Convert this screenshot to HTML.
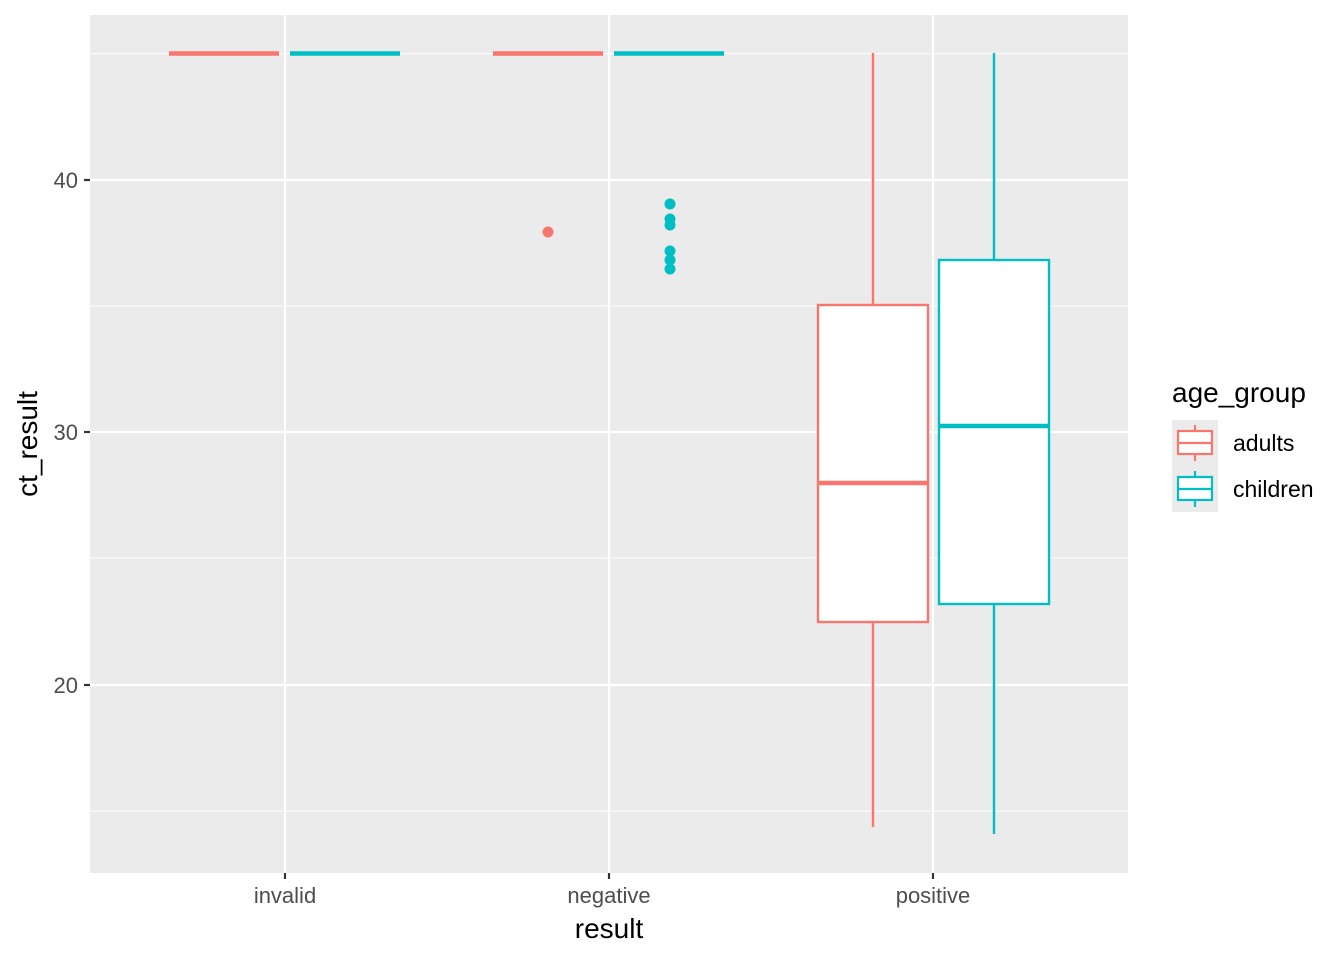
<!DOCTYPE html>
<html><head><meta charset="utf-8"><style>body{margin:0;background:#fff}</style></head><body>
<svg width="1344" height="960" xmlns="http://www.w3.org/2000/svg" font-family="Liberation Sans, sans-serif">
<rect x="90" y="15" width="1038" height="858" fill="#ebebeb"/>
<g stroke="#fff" stroke-width="1.1">
<line x1="90" x2="1128" y1="53.75" y2="53.75"/><line x1="90" x2="1128" y1="306" y2="306"/><line x1="90" x2="1128" y1="558" y2="558"/><line x1="90" x2="1128" y1="811" y2="811"/>
</g>
<g stroke="#fff" stroke-width="2.2">
<line x1="90" x2="1128" y1="180" y2="180"/><line x1="90" x2="1128" y1="432" y2="432"/><line x1="90" x2="1128" y1="685" y2="685"/>
<line x1="285" x2="285" y1="15" y2="873"/><line x1="609" x2="609" y1="15" y2="873"/><line x1="933" x2="933" y1="15" y2="873"/>
</g>
<g stroke-width="4.5">
<line x1="169" x2="279" y1="53.5" y2="53.5" stroke="#f8766d"/><line x1="290" x2="400" y1="53.5" y2="53.5" stroke="#00bfc4"/>
<line x1="493" x2="603" y1="53.5" y2="53.5" stroke="#f8766d"/><line x1="614" x2="724" y1="53.5" y2="53.5" stroke="#00bfc4"/>
</g>
<circle cx="548" cy="232" r="5.5" fill="#f8766d"/>
<g fill="#00bfc4"><circle cx="670" cy="204" r="5.5"/><circle cx="670" cy="219" r="5.5"/><circle cx="670" cy="225" r="5.5"/><circle cx="670" cy="251" r="5.5"/><circle cx="670" cy="260" r="5.5"/><circle cx="670" cy="269" r="5.5"/></g>
<g stroke="#f8766d" stroke-width="2.4" fill="#fff">
<line x1="873" x2="873" y1="53" y2="305"/><line x1="873" x2="873" y1="622" y2="827"/>
<rect x="818" y="305" width="110" height="317"/><line x1="818" x2="928" y1="483" y2="483" stroke-width="4.6"/>
</g>
<g stroke="#00bfc4" stroke-width="2.4" fill="#fff">
<line x1="994" x2="994" y1="53" y2="260"/><line x1="994" x2="994" y1="604" y2="834"/>
<rect x="939" y="260" width="110" height="344"/><line x1="939" x2="1049" y1="426" y2="426" stroke-width="4.6"/>
</g>
<g stroke="#333" stroke-width="2.2">
<line x1="84" x2="90" y1="180" y2="180"/><line x1="84" x2="90" y1="432" y2="432"/><line x1="84" x2="90" y1="685" y2="685"/>
<line x1="285" x2="285" y1="873" y2="879"/><line x1="609" x2="609" y1="873" y2="879"/><line x1="933" x2="933" y1="873" y2="879"/>
</g>
<g fill="#4d4d4d" font-size="22" text-anchor="end">
<text x="78" y="188">40</text><text x="78" y="440">30</text><text x="78" y="693">20</text>
</g>
<g fill="#4d4d4d" font-size="22" text-anchor="middle">
<text x="285" y="903">invalid</text><text x="609" y="903">negative</text><text x="933" y="903">positive</text>
</g>
<text x="609" y="938" font-size="28" text-anchor="middle">result</text>
<text transform="translate(37,444) rotate(-90)" font-size="28" text-anchor="middle">ct_result</text>
<text x="1172" y="402" font-size="28">age_group</text>
<rect x="1172" y="420" width="46" height="92" fill="#ebebeb"/>
<g stroke="#f8766d" stroke-width="2.2" fill="#fff"><line x1="1195" x2="1195" y1="425" y2="461"/><rect x="1178" y="431" width="34" height="23"/><line x1="1178" x2="1212" y1="443" y2="443"/></g>
<g stroke="#00bfc4" stroke-width="2.2" fill="#fff"><line x1="1195" x2="1195" y1="471" y2="507"/><rect x="1178" y="477" width="34" height="23"/><line x1="1178" x2="1212" y1="489" y2="489"/></g>
<text x="1233" y="451" font-size="23">adults</text><text x="1233" y="497" font-size="23">children</text>
</svg>
</body></html>
